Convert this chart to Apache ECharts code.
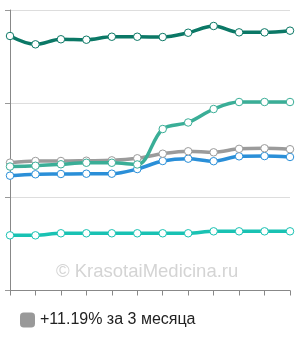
<!DOCTYPE html>
<html><head><meta charset="utf-8">
<script src="https://cdn.jsdelivr.net/npm/echarts@6/dist/echarts.min.js"></script>
<style>html,body{margin:0;padding:0;background:#fff}#c{width:300px;height:340px}</style>
</head><body><div id="c"></div>
<script>
const categories = ['1','2','3','4','5','6','7','8','9','10','11','12'];
const darkTeal = [272.2, 263.3, 268.7, 268.2, 271.4, 271.4, 271.1, 275.7, 282.9, 276.1, 276.1, 277.9];
const green = [132.6, 133.4, 135.0, 136.6, 136.6, 134.8, 172.7, 179.7, 194.1, 201.6, 201.6, 201.6];
const gray = [136.7, 138.5, 138.5, 138.8, 139.2, 141.4, 146.3, 148.9, 147.8, 151.5, 152.1, 151.1];
const blue = [122.8, 124.3, 124.6, 124.9, 124.9, 129.9, 138.5, 141.0, 138.3, 143.5, 143.8, 142.8];
const cyan = [59.0, 59.0, 61.2, 61.2, 61.2, 61.2, 61.2, 61.2, 63.3, 63.3, 63.3, 63.3];
const legendLabel = '+11.19% за 3 месяца';
const watermark = '© KrasotaiMedicina.ru';

function s(name, data, color, z) {
  return {
    name: name, type: 'line', data: data, smooth: 0.35, z: z,
    symbol: 'circle', symbolSize: 7.5,
    lineStyle: { color: color, width: 3.5 },
    itemStyle: { color: '#fff', borderColor: color, borderWidth: 1 },
    emphasis: { disabled: true }
  };
}
const chart = echarts.init(document.getElementById('c'), null, { renderer: 'canvas' });
chart.setOption({
  animation: false,
  backgroundColor: '#fff',
  grid: { left: 10, right: 10, top: 10, bottom: 49.5, containLabel: false },
  xAxis: {
    type: 'category', data: categories, boundaryGap: false,
    axisLine: { lineStyle: { color: '#888', width: 1 } },
    axisTick: { show: true, length: 5, lineStyle: { color: '#888' }, alignWithLabel: true, interval: 0 },
    axisLabel: { show: false },
    splitLine: { show: false }
  },
  yAxis: {
    type: 'value', min: 0, max: 300, interval: 100,
    axisLine: { show: true, lineStyle: { color: '#888', width: 1 } },
    axisTick: { show: true, length: 5, lineStyle: { color: '#999' } },
    axisLabel: { show: false },
    splitLine: { show: true, lineStyle: { color: '#ddd', width: 1 } }
  },
  legend: {
    data: [{ name: legendLabel, icon: 'roundRect', itemStyle: { color: '#999', borderWidth: 0 } }],
    left: 20, top: 312, padding: 0, itemWidth: 15, itemHeight: 15, itemGap: 10,
    textStyle: { fontFamily: 'Liberation Sans, Arial, sans-serif', fontSize: 16, color: '#222', padding: [0, 0, 0, 0] },
    selectedMode: false
  },
  graphic: [{
    type: 'text', left: 56, top: 262, z: 0,
    style: { text: watermark, fontFamily: 'Liberation Sans, Arial, sans-serif', fontSize: 18.5, fill: '#d4d4d4' }
  }],
  series: [
    s('blue', blue, '#2a8fd8', 2),
    s(legendLabel, gray, '#9b9b9b', 3),
    s('green', green, '#3aae97', 4),
    s('cyan', cyan, '#19c2b3', 5),
    s('dark', darkTeal, '#0b7866', 6)
  ]
});
</script></body></html>
